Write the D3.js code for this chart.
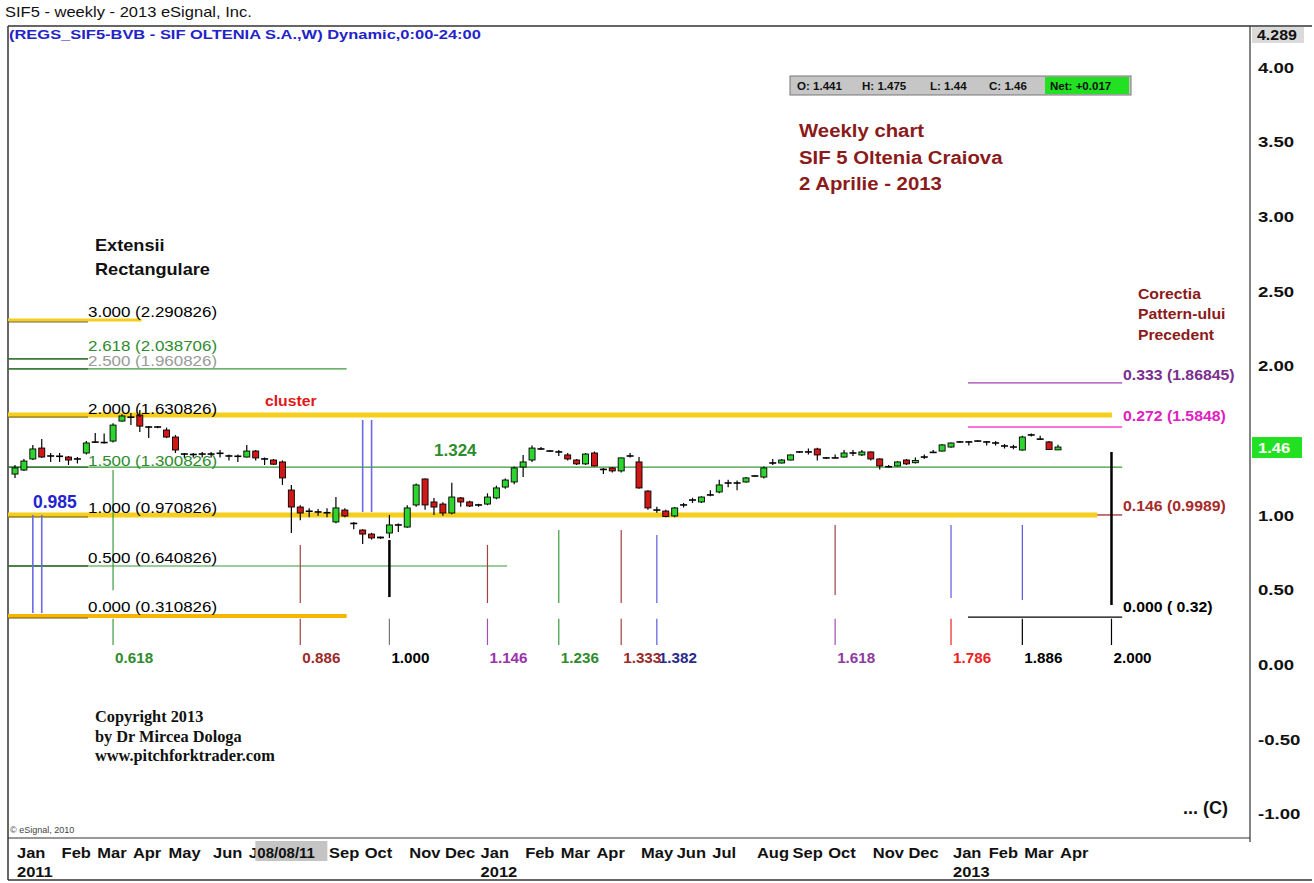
<!DOCTYPE html>
<html>
<head>
<meta charset="UTF-8">
<title>SIF5 weekly</title>
<script src="https://cdn.jsdelivr.net/npm/d3@7"></script>
<style>
	body{ margin:0; background:#fff; }
	text{ font-family: Arial, "Liberation Sans", sans-serif; }
</style>
</head>
<body>
<script>
// weekly OHLC, Jan 2011 .. Apr 2013
var openV  = [1.279,1.306,1.380,1.453,1.400,1.398,1.393,1.380,1.420,1.493,1.490,1.500,1.634,1.660,1.674,1.594,1.594,1.574,1.527,1.413,
              1.410,1.413,1.413,1.418,1.400,1.398,1.393,1.433,1.380,1.373,1.360,1.172,1.058,1.030,1.025,1.020,0.958,1.038,0.948,0.904,
              0.877,0.857,0.884,0.938,0.924,1.072,1.246,1.092,1.078,1.018,1.119,1.092,1.072,1.078,1.119,1.192,1.226,1.326,1.373,1.447,
              1.433,1.427,1.407,1.373,1.347,1.420,1.310,1.320,1.300,1.400,1.360,1.165,1.038,1.031,0.998,1.072,1.105,1.092,1.139,1.159,
              1.219,1.219,1.226,1.266,1.259,1.353,1.353,1.373,1.427,1.427,1.447,1.387,1.387,1.393,1.420,1.407,1.427,1.380,1.328,1.333,
              1.373,1.355,1.393,1.424,1.433,1.460,1.494,1.494,1.500,1.494,1.487,1.467,1.460,1.440,1.541,1.513,1.494,1.441];
var highV  = [1.340,1.380,1.474,1.514,1.420,1.420,1.400,1.393,1.500,1.554,1.550,1.620,1.680,1.688,1.708,1.600,1.600,1.590,1.540,1.420,
              1.420,1.427,1.427,1.440,1.410,1.410,1.474,1.440,1.390,1.380,1.370,1.206,1.070,1.050,1.045,1.050,1.126,1.050,0.958,0.910,
              0.885,0.860,1.005,0.948,1.070,1.215,1.250,1.119,1.090,1.220,1.125,1.100,1.080,1.150,1.200,1.250,1.330,1.407,1.470,1.460,
              1.440,1.440,1.420,1.380,1.420,1.430,1.320,1.325,1.390,1.420,1.393,1.170,1.060,1.040,1.058,1.085,1.120,1.130,1.170,1.240,
              1.240,1.235,1.260,1.270,1.330,1.380,1.380,1.410,1.430,1.450,1.455,1.390,1.410,1.440,1.440,1.440,1.430,1.385,1.340,1.365,
              1.380,1.390,1.410,1.440,1.480,1.490,1.500,1.500,1.505,1.500,1.500,1.480,1.475,1.535,1.550,1.535,1.500,1.475];
var lowV   = [1.253,1.300,1.373,1.387,1.360,1.360,1.340,1.350,1.410,1.487,1.484,1.490,1.630,1.607,1.560,1.520,1.585,1.520,1.420,1.387,
              1.390,1.390,1.390,1.390,1.370,1.360,1.390,1.370,1.340,1.340,1.206,0.884,0.970,0.990,1.000,0.990,0.950,0.990,0.910,0.810,
              0.840,0.845,0.850,0.890,0.920,1.060,1.040,1.005,1.000,1.010,1.060,1.058,1.060,1.070,1.110,1.180,1.210,1.260,1.360,1.440,
              1.430,1.400,1.370,1.340,1.340,1.330,1.280,1.290,1.290,1.390,1.180,1.040,1.020,0.990,0.990,1.055,1.085,1.085,1.130,1.150,
              1.190,1.170,1.220,1.260,1.250,1.340,1.350,1.370,1.420,1.410,1.370,1.380,1.383,1.390,1.400,1.400,1.370,1.310,1.323,1.330,
              1.340,1.350,1.380,1.420,1.430,1.455,1.488,1.470,1.495,1.470,1.470,1.450,1.445,1.435,1.530,1.508,1.440,1.440];
var closeV = [1.320,1.366,1.447,1.393,1.396,1.400,1.373,1.382,1.487,1.490,1.487,1.607,1.668,1.664,1.600,1.590,1.592,1.527,1.440,1.410,
              1.407,1.410,1.415,1.415,1.398,1.395,1.433,1.387,1.378,1.345,1.253,1.058,1.018,1.025,1.022,1.015,1.052,0.998,0.944,0.877,
              0.851,0.851,0.938,0.934,1.052,1.206,1.072,1.058,1.018,1.125,1.092,1.065,1.070,1.125,1.186,1.239,1.320,1.360,1.453,1.450,
              1.433,1.425,1.380,1.347,1.413,1.333,1.307,1.300,1.387,1.398,1.186,1.052,1.035,0.995,1.052,1.070,1.102,1.125,1.136,1.206,
              1.216,1.217,1.253,1.265,1.320,1.351,1.373,1.407,1.426,1.425,1.407,1.386,1.385,1.420,1.418,1.427,1.380,1.333,1.326,1.360,
              1.347,1.370,1.391,1.422,1.474,1.487,1.493,1.492,1.499,1.492,1.485,1.465,1.458,1.527,1.539,1.511,1.443,1.460];

// price tick values for the right axis
var priceTicks = [-1, -0.5, 0, 0.5, 1, 1.5, 2, 2.5, 3, 3.5, 4];

// rectangular extensions (left)
var extLabels = ["3.000 (2.290826)", "2.618 (2.038706)", "2.500 (1.960826)", "2.000 (1.630826)",
                 "1.500 (1.300826)", "1.000 (0.970826)", "0.500 (0.640826)", "0.000 (0.310826)"];
var extValues = [2.311, 2.050, 1.983, 1.674, 1.326, 1.005, 0.663, 0.328];
var extEndBar = [14.2, 8.2, 37.2, 123.05, 124.2, 121.4, 55.2, 37.2];
var extColors = ["#f6cf1c", "#3a9a3a", "#3a9a3a", "#f6cf1c", "#3a9a3a", "#f6cf1c", "#3a9a3a", "#f5b600"];
var extWidths = [3, 1.2, 1.2, 5, 1.2, 5, 1.2, 4];
var extText   = ["#000", "#2e8b2e", "#9a9a9a", "#000", "#2e8b2e", "#000", "#000", "#000"];

// time ratios (bottom)
var timeLabels = ["0.618", "0.886", "1.000", "1.146", "1.236", "1.333", "1.382", "1.618", "1.786", "1.886", "2.000"];
var timeBars   = [11, 32, 42, 53, 61, 68, 72, 92, 105, 113, 123];
var timeTop    = [1.306, 0.804, 0.837, 0.804, 0.904, 0.904, 0.871, 0.938, 0.938, 0.938, 1.427];
var timeBottom = [0.500, 0.415, 0.455, 0.415, 0.415, 0.415, 0.415, 0.469, 0.449, 0.435, 0.402];
var timeUpColor  = ["#3a9a3a", "#a04040", "#000", "#a04040", "#3a9a3a", "#a04040", "#5a5ae0", "#a04040", "#5a5ae0", "#5a5ae0", "#000"];
var timeLowColor = ["#3a9a3a", "#a04040", "#777", "#a050b0", "#3a9a3a", "#a04040", "#5a5ae0", "#a050b0", "#ee2222", "#000", "#000"];
var timeTxtColor = ["#2e8b2e", "#9b2a2a", "#000", "#9933aa", "#2e8b2e", "#9b2a2a", "#2a2a8a", "#8e3b9e", "#ee2222", "#000", "#000"];

// pattern correction levels (right)
var corrLabels = ["0.333 (1.86845)", "0.272 (1.5848)", "0.146 (0.9989)", "0.000 ( 0.32)"];
var corrValues = [1.889, 1.594, 1.005, 0.321];
var corrStart  = [106.9, 106.9, 121.4, 106.9];
var corrColors = ["#a040b0", "#ff44cc", "#a52a2a", "#000"];
var corrText   = ["#7a2e8e", "#e020c0", "#a52a2a", "#000"];

// double blue markers
var blueBars = [2, 3, 39, 40];
var blueTop  = [1.005, 1.005, 1.641, 1.641];
var blueBot  = [0.348, 0.348, 1.025, 1.025];

var width = 1314, height = 883;
var FONT = "Arial, 'Liberation Sans', sans-serif";
var SX = 1.12;

var svg = d3.select("body").append("svg")
	.attr("width", width)
	.attr("height", height);

svg.append("rect").attr("width", width).attr("height", height).attr("fill", "#fff");

var plotL = 8, plotR = 1250, plotT = 26, plotB = 838;

var x = d3.scaleLinear().domain([0, 117]).range([15, 1058]);
var y = d3.scaleLinear().domain([-1, 4]).range([814.3, 67.8]);

var weeks = d3.timeMonday.range(new Date(2011, 0, 3), new Date(2013, 3, 2));

function txt(g, px, py, s, size, fill, weight, sx, family){
	return g.append("text")
		.attr("transform", "translate(" + px + "," + py + ") scale(" + (sx || SX) + ",1)")
		.attr("font-size", size)
		.attr("font-weight", weight || "bold")
		.attr("fill", fill || "#000")
		.style("font-family", family || FONT)
		.text(s);
}

function line(g, x1, y1, x2, y2, col, w){
	return g.append("line")
		.attr("x1", x1).attr("y1", y1).attr("x2", x2).attr("y2", y2)
		.attr("stroke", col).attr("stroke-width", w || 1);
}

// frame
var frame = svg.append("g");
line(frame, plotL, plotT, 1312, plotT, "#333", 1.5);
line(frame, plotL, plotT, plotL, 880, "#333", 1.5);
line(frame, plotL, plotB, plotR, plotB, "#333", 1.2);
line(frame, plotL, 880, 1312, 880, "#333", 1.5);
line(frame, plotR, plotT, plotR, plotB + 4, "#333", 1.2);

// header
txt(svg, 5, 17, "SIF5 - weekly - 2013 eSignal, Inc.", 14, "#111", "normal", 1.18);
txt(svg, 9, 39, "(REGS_SIF5-BVB - SIF OLTENIA S.A.,W) Dynamic,0:00-24:00", 13.5, "#2323c8", "bold", 1.22);

// rectangular extension lines
var ext = svg.append("g");
extValues.forEach(function(v, i){
	line(ext, plotL, y(v), x(extEndBar[i]), y(v), extColors[i], extWidths[i]);
	if (extWidths[i] > 2) line(ext, plotL, y(v) + 2, 88, y(v) + 2, "#6b5a20", 1);
	else line(ext, plotL, y(v), 88, y(v), "#2d6b2d", 1.3);
});

// correction levels on the right
corrValues.forEach(function(v, i){
	line(ext, x(corrStart[i]), y(v), x(124.2), y(v), corrColors[i], 1.3);
});

// time ratio lines
var tl = svg.append("g");
timeBars.forEach(function(b, i){
	var heavy = (timeUpColor[i] == "#000");
	line(tl, x(b), y(timeTop[i]), x(b), y(timeBottom[i]), timeUpColor[i], heavy ? 2.5 : 1.2);
	line(tl, x(b), y(0.310), x(b), y(0.134), timeLowColor[i], 1.2);
});
blueBars.forEach(function(b, i){
	line(tl, x(b), y(blueTop[i]), x(b), y(blueBot[i]), "#6a6ae8", 1.6);
});

// candles
var bars = d3.range(openV.length).map(function(i){
	return {i: i, o: openV[i], h: highV[i], l: lowV[i], c: closeV[i]};
});
var bw = 6;
var cg = svg.append("g");
cg.selectAll("line.wick").data(bars).enter().append("line")
	.attr("class", "wick")
	.attr("x1", function(d){ return x(d.i); })
	.attr("x2", function(d){ return x(d.i); })
	.attr("y1", function(d){ return y(d.h); })
	.attr("y2", function(d){ return y(d.l); })
	.attr("stroke", "#000").attr("stroke-width", 1.2);
cg.selectAll("rect.body").data(bars.filter(function(d){ return Math.abs(d.o - d.c) >= 0.006; })).enter().append("rect")
	.attr("class", "body")
	.attr("x", function(d){ return x(d.i) - bw / 2; })
	.attr("y", function(d){ return y(Math.max(d.o, d.c)); })
	.attr("width", bw)
	.attr("height", function(d){ return Math.abs(y(d.o) - y(d.c)); })
	.attr("fill", function(d){ return d.c > d.o ? "#2ed52e" : "#d01818"; })
	.attr("stroke", "#000").attr("stroke-width", 0.9);
cg.selectAll("line.doji").data(bars.filter(function(d){ return Math.abs(d.o - d.c) < 0.006; })).enter().append("line")
	.attr("class", "doji")
	.attr("x1", function(d){ return x(d.i) - bw / 2 - 0.5; })
	.attr("x2", function(d){ return x(d.i) + bw / 2 + 0.5; })
	.attr("y1", function(d){ return y(d.o); })
	.attr("y2", function(d){ return y(d.o); })
	.attr("stroke", "#000").attr("stroke-width", 1.6);

// texts on chart
var tg = svg.append("g");
var extOff = [-3, -8, -3, -1, -1, -2, -3, -4];
extLabels.forEach(function(s, i){
	txt(tg, 88, y(extValues[i]) + extOff[i], s, 14.5, extText[i], "normal", 1.17);
});
timeLabels.forEach(function(s, i){
	txt(tg, x(timeBars[i]) + 2, 663, s, 14.5, timeTxtColor[i], "bold", 1.05);
});
var corrOff = [-3, -6, -4, -5];
corrLabels.forEach(function(s, i){
	txt(tg, 1123, y(corrValues[i]) + corrOff[i], s, 15.5, corrText[i], "bold", 1.02);
});

txt(tg, 799, 137, "Weekly chart", 18.5, "#8b1a1a", "bold", 1.1);
txt(tg, 799, 164, "SIF 5 Oltenia Craiova", 18.5, "#8b1a1a", "bold", 1.1);
txt(tg, 799, 190, "2 Aprilie - 2013", 18.5, "#8b1a1a", "bold", 1.1);

txt(tg, 95, 251, "Extensii", 16.5, "#111", "bold", 1.1);
txt(tg, 95, 275, "Rectangulare", 16.5, "#111", "bold", 1.1);

txt(tg, 1138, 299, "Corectia", 15, "#8b1a1a", "bold", 1.05);
txt(tg, 1138, 319, "Pattern-ului", 15, "#8b1a1a", "bold", 1.05);
txt(tg, 1138, 340, "Precedent", 15, "#8b1a1a", "bold", 1.05);

txt(tg, 265, 406, "cluster", 15, "#e01818", "bold", 1.05);
txt(tg, 434, 456, "1.324", 17, "#2e8b2e", "bold", 1.0);
txt(tg, 33, 508, "0.985", 17.5, "#2323d0", "bold", 1.0);

var serif = "'Times New Roman', 'Liberation Serif', serif";
txt(tg, 95, 722, "Copyright 2013", 16, "#111", "bold", 1.02, serif);
txt(tg, 95, 742, "by Dr Mircea Dologa", 16, "#111", "bold", 1.02, serif);
txt(tg, 95, 761, "www.pitchforktrader.com", 16, "#111", "bold", 1.02, serif);

txt(tg, 1183, 814, "... (C)", 18, "#111", "bold", 1.0);
txt(tg, 10, 833, "\u00a9 eSignal, 2010", 9, "#444", "normal", 1.0);

// OHLC status box
var last = bars[bars.length - 1], prev = bars[bars.length - 2];
var sb = svg.append("g");
sb.append("rect").attr("x", 790).attr("y", 76).attr("width", 341).attr("height", 19)
	.attr("fill", "#c6c6c6").attr("stroke", "#777").attr("stroke-width", 1);
sb.append("rect").attr("x", 1045).attr("y", 77).attr("width", 84).attr("height", 17).attr("fill", "#22e022");
var f3 = d3.format(".3~f");
txt(sb, 797, 90, "O: " + f3(last.o), 11, "#111", "bold", 1.05);
txt(sb, 862, 90, "H: " + f3(last.h), 11, "#111", "bold", 1.05);
txt(sb, 930, 90, "L: " + f3(last.l), 11, "#111", "bold", 1.05);
txt(sb, 989, 90, "C: " + f3(last.c), 11, "#111", "bold", 1.05);
txt(sb, 1050, 90, "Net: " + d3.format("+.3f")(last.c - prev.c), 11, "#111", "bold", 1.05);

// right price axis (the tick under the last-price tag stays hidden)
var plainFmt = d3.formatLocale({decimal: ".", thousands: ",", grouping: [3], currency: ["", ""], minus: "-"}).format(".2f");
var tagY = y(last.c);
var ax = svg.append("g");
ax.selectAll("text.tick").data(priceTicks.filter(function(d){ return Math.abs(y(d) - tagY) > 16; })).enter().append("text")
	.attr("class", "tick")
	.attr("transform", function(d){ return "translate(1258," + (y(d) + 5) + ") scale(1.2,1)"; })
	.attr("font-size", 15.5).attr("font-weight", "bold").attr("fill", "#111")
	.text(plainFmt);

ax.append("rect").attr("x", 1252).attr("y", 27).attr("width", 52).attr("height", 16).attr("fill", "#dadada");
txt(ax, 1257, 40, "4.289", 14.5, "#111", "bold", 1.1);

ax.append("rect").attr("x", 1252).attr("y", tagY - 10).attr("width", 50).attr("height", 21).attr("fill", "#22e022");
txt(ax, 1258, tagY + 6, plainFmt(last.c), 15, "#fff", "bold", 1.1);

// bottom time axis
var hl = 31;
var boxL = x(hl) - 36;
var bx = svg.append("g");
var monthFmt = d3.timeFormat("%b");
weeks.forEach(function(d, i){
	if (i > 0 && d.getMonth() == weeks[i - 1].getMonth()) return;
	var lx = x(i) + 2;
	if (lx > boxL + 4 && lx < boxL + 70) return;
	var t = txt(bx, lx, 858, monthFmt(d), 15, "#111", "bold", 1.1);
	if (lx < boxL && lx + 30 > boxL) {
		t.text(monthFmt(d).charAt(0));
	}
	if (d.getMonth() == 0) txt(bx, lx, 877, d.getFullYear(), 15, "#111", "bold", 1.1);
});
bx.append("rect").attr("x", boxL).attr("y", 841).attr("width", 72).attr("height", 20).attr("fill", "#c4c4c4");
txt(bx, boxL + 2, 858, d3.timeFormat("%m/%d/%y")(weeks[hl]), 15, "#111", "bold", 1.0);
</script>
</body>
</html>
